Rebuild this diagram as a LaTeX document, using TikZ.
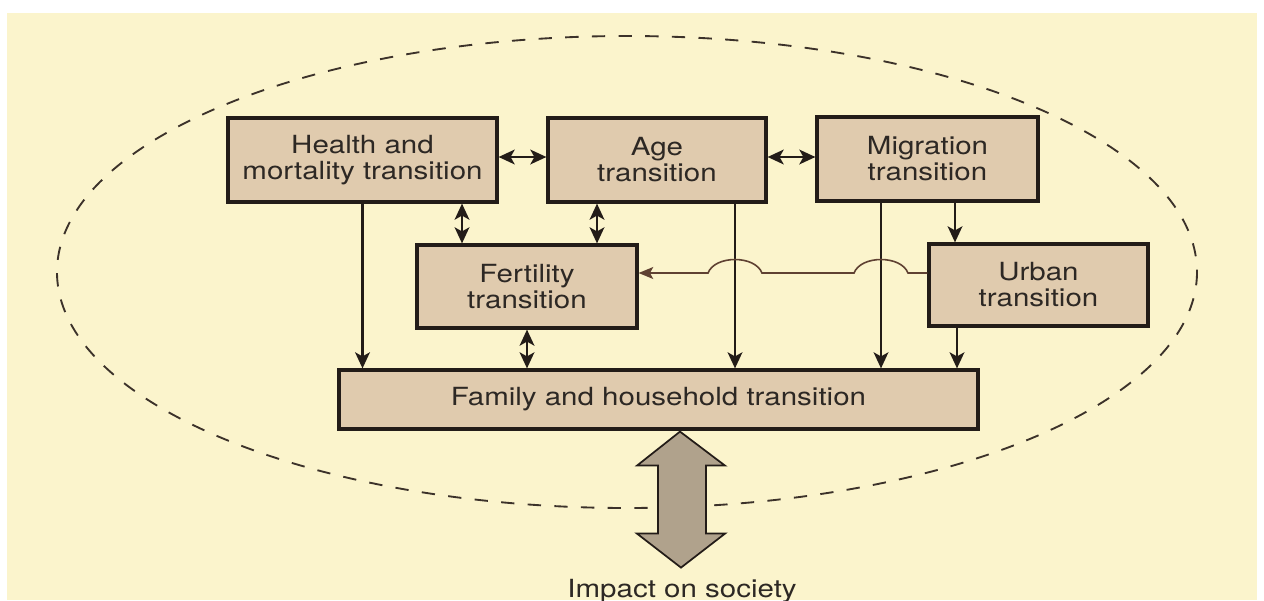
\documentclass[tikz,border=0pt]{standalone}
\usepackage{fontspec}
\setmainfont[FakeStretch=1.18]{TeX Gyre Heros}
\usetikzlibrary{arrows.meta,calc}
\definecolor{bgc}{RGB}{251,244,204}
\definecolor{boxfill}{RGB}{224,203,174}
\definecolor{linec}{RGB}{35,28,24}
\definecolor{textc}{RGB}{45,40,36}
\definecolor{bigfill}{RGB}{176,162,140}
\definecolor{thinc}{RGB}{95,65,50}
\definecolor{dashc}{RGB}{60,50,42}
\newcommand{\boxfont}{\fontsize{18.75pt}{19.5pt}\selectfont}
\begin{document}
\begin{tikzpicture}[x=0.75pt,y=-0.75pt,
  box/.style={draw=linec, line width=2.4pt, fill=boxfill, align=center, inner sep=0pt, font=\boxfont, text=textc},
  tip/.tip={Stealth[length=12pt,width=11pt,inset=3pt]},
  arr/.style={draw=linec, line width=1.9pt, -tip},
  dbl/.style={draw=linec, line width=1.9pt, tip-tip},
  jumpline/.style={draw=thinc, line width=1.2pt, -{Stealth[length=11pt,width=9pt,inset=2.5pt]}},
  bigarrow/.style={draw=linec, line width=1.3pt, fill=bigfill, line join=miter},
  ellipseline/.style={draw=dashc, line width=1.4pt, dash pattern=on 10pt off 10pt},
  label/.style={font=\boxfont, text=textc, inner sep=0pt, anchor=base}]
\useasboundingbox (0,0) rectangle (1264,600);
\fill[bgc] (7,13) rectangle (1257,600);
\draw[ellipseline] (627,272) ellipse [x radius=570, y radius=236];

\node[box, minimum width=201.75pt, minimum height=63pt] (health) at (362.5,160) {Health and\\mortality transition};
\node[box, minimum width=163.5pt, minimum height=63pt] (age) at (657,160) {Age\\transition};
\node[box, minimum width=165.75pt, minimum height=63pt] (mig) at (927.5,159) {Migration\\transition};
\node[box, minimum width=165pt, minimum height=62.25pt] (fert) at (527,286.5) {Fertility\\transition};
\node[box, minimum width=164.25pt, minimum height=61.5pt] (urban) at (1038.5,285) {Urban\\transition};
\node[box, minimum width=479.25pt, minimum height=44.25pt] (family) at (658.5,399.5) {Family and household transition};
\node[label] (impact) at (682,597) {Impact on society};

\coordinate (hy) at (0,157);
\coordinate (xHF) at (462,0);
\coordinate (xAF) at (597,0);
\coordinate (xAM) at (735,0);
\coordinate (xMF) at (881,0);
\coordinate (xMU) at (955,0);
\coordinate (xUF) at (957,0);

\draw[dbl] (health.east |- hy) -- (age.west |- hy);
\draw[dbl] (age.east |- hy) -- (mig.west |- hy);
\draw[dbl] (xHF |- health.south) -- (xHF |- fert.north);
\draw[dbl] (xAF |- age.south) -- (xAF |- fert.north);
\draw[dbl] (fert.south) -- (fert.south |- family.north);
\draw[arr] (health.south) -- (health.south |- family.north);
\draw[arr] (xAM |- age.south) -- (xAM |- family.north);
\draw[arr] (xMF |- mig.south) -- (xMF |- family.north);
\draw[arr] (xMU |- mig.south) -- (xMU |- urban.north);
\draw[arr] (xUF |- urban.south) -- (xUF |- family.north);

\coordinate (ufy) at (0,273);
\coordinate (ja) at (xAM |- ufy);
\coordinate (jm) at (xMF |- ufy);
\draw[jumpline] (urban.west |- ufy) -- ($(jm)+(27,0)$)
  .. controls +(-7,-18) and +(7,-18) .. ($(jm)-(27,0)$)
  -- ($(ja)+(27,0)$)
  .. controls +(-7,-18) and +(7,-18) .. ($(ja)-(27,0)$)
  -- (fert.east |- ufy);

\coordinate (at) at (impact.north |- family.south);
\draw[bigarrow] ($(at)+(-2,1)$) -- ++(45,34) -- ++(-19,0) -- ++(0,68) -- ++(19,0)
  -- ++(-44,34) -- ++(-44,-34) -- ++(21,0) -- ++(0,-68) -- ++(-21,0) -- cycle;
\end{tikzpicture}
\end{document}
